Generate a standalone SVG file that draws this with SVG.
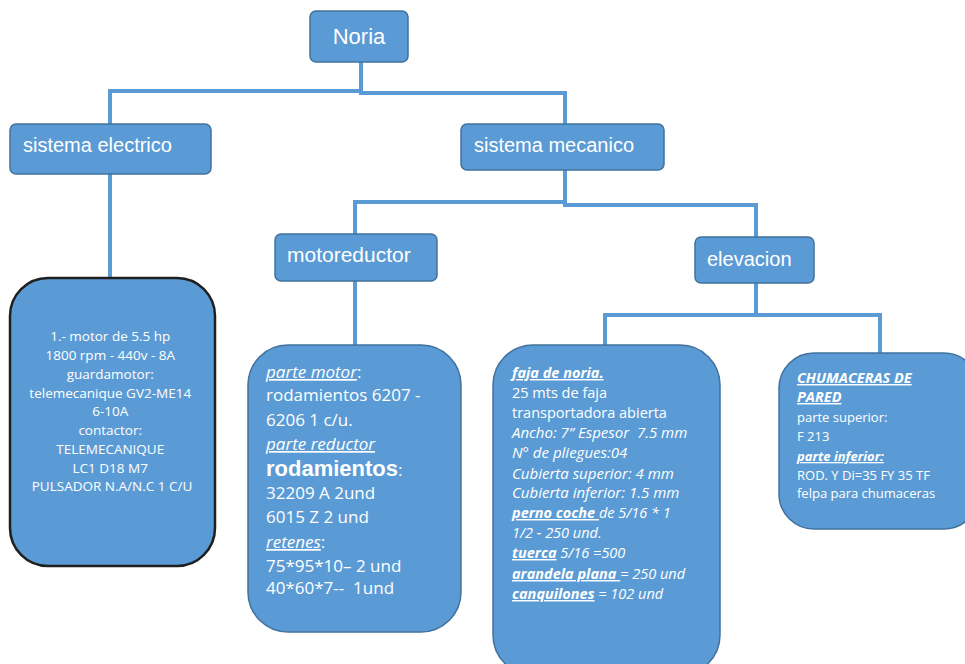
<svg xmlns="http://www.w3.org/2000/svg" width="965" height="664" viewBox="0 0 965 664">
  <style>
    .box { fill: #5B9BD5; stroke: #41719C; stroke-width: 1.5; }
    .big { fill: #5B9BD5; stroke: #41719C; stroke-width: 1.5; }
    .dark { stroke: #1f1f1f; stroke-width: 2.5; }
    .hdr { font-family: "Liberation Sans", Arial, sans-serif; font-size: 20px; fill: #ffffff; }
    .body { font-family: "Open Sans", "Liberation Sans", sans-serif; fill: #ffffff; }
    .pre { white-space: pre; }
    .link { fill: none; stroke: #5B9BD5; stroke-width: 4; }
    .u { text-decoration: underline; font-style: italic; font-weight: bold; }
    .i { font-style: italic; }
  </style>
  <rect width="965" height="664" fill="#ffffff"/>

  <g id="connectors">
    <path class="link" d="M361 62 V91 H110 V124"/>
    <path class="link" d="M361 62 V93 H565 V124"/>
    <path class="link" d="M110 174 V278"/>
    <path class="link" d="M565 170 V202 H355 V234"/>
    <path class="link" d="M565 170 V205 H756 V237"/>
    <path class="link" d="M355 281 V345"/>
    <path class="link" d="M756 283 V315 H605 V345"/>
    <path class="link" d="M756 283 V315 H880 V353"/>
  </g>

  <g id="noria">
    <rect class="box" x="310" y="11" width="98" height="51" rx="6"/>
    <text class="hdr" x="359" y="44" text-anchor="middle" style="font-size:22px">Noria</text>
  </g>

  <g id="sistema-electrico">
    <rect class="box" x="10" y="124" width="201" height="50" rx="6"/>
    <text class="hdr" x="23" y="152">sistema electrico</text>
  </g>

  <g id="sistema-mecanico">
    <rect class="box" x="461" y="124" width="203" height="46" rx="6"/>
    <text class="hdr" x="474" y="152">sistema mecanico</text>
  </g>

  <g id="motoreductor">
    <rect class="box" x="275" y="234" width="162" height="47" rx="6"/>
    <text class="hdr" x="287" y="262" style="font-size:21px">motoreductor</text>
  </g>

  <g id="elevacion">
    <rect class="box" x="695" y="237" width="119" height="46" rx="6"/>
    <text class="hdr" x="707" y="266">elevacion</text>
  </g>

  <g id="electrico-detalle">
    <rect class="big dark" x="10" y="278" width="205" height="288" rx="38"/>
    <text class="body" font-size="13.5" text-anchor="middle">
      <tspan x="112" y="341">1.- motor de 5.5 hp</tspan>
      <tspan x="112" y="360">1800 rpm - 440v - 8A</tspan>
      <tspan x="112" y="379">guardamotor:</tspan>
      <tspan x="112" y="398">telemecanique GV2-ME14</tspan>
      <tspan x="112" y="416">6-10A</tspan>
      <tspan x="112" y="435">contactor:</tspan>
      <tspan x="112" y="454">TELEMECANIQUE</tspan>
      <tspan x="112" y="473">LC1 D18 M7</tspan>
      <tspan x="112" y="491">PULSADOR N.A/N.C 1 C/U</tspan>
    </text>
  </g>

  <g id="motoreductor-detalle">
    <rect class="big" x="248" y="345" width="213" height="287" rx="40"/>
    <text class="body" font-size="17">
      <tspan x="266" y="378"><tspan class="u" style="font-weight:normal">parte motor</tspan>:</tspan>
      <tspan x="266" y="401">rodamientos 6207 -</tspan>
      <tspan x="266" y="426">6206 1 c/u.</tspan>
      <tspan x="266" y="450" class="u" style="font-weight:normal">parte reductor</tspan>
      <tspan x="266" y="476"><tspan font-family="Liberation Sans, Arial, sans-serif" font-weight="bold" font-size="22">rodamientos</tspan>:</tspan>
      <tspan x="266" y="499">32209 A 2und</tspan>
      <tspan x="266" y="523">6015 Z 2 und</tspan>
      <tspan x="266" y="548"><tspan class="u" style="font-weight:normal">retenes</tspan>:</tspan>
      <tspan x="266" y="572">75*95*10– 2 und</tspan>
      <tspan x="266" y="594" class="pre">40*60*7--  1und</tspan>
    </text>
  </g>

  <g id="faja-detalle">
    <rect class="big" x="493" y="345" width="227" height="330" rx="40"/>
    <text class="body" font-size="14.5">
      <tspan x="512" y="378" class="u">faja de noria.</tspan>
      <tspan x="512" y="398">25 mts de faja</tspan>
      <tspan x="512" y="418">transportadora abierta</tspan>
      <tspan x="512" y="438" class="i pre" font-size="15">Ancho: 7” Espesor  7.5 mm</tspan>
      <tspan x="512" y="458" class="i" font-size="15">N° de pliegues:04</tspan>
      <tspan x="512" y="479" class="i" font-size="15">Cubierta superior: 4 mm</tspan>
      <tspan x="512" y="498" class="i" font-size="15">Cubierta inferior: 1.5 mm</tspan>
      <tspan x="512" y="518"><tspan class="u pre">perno coche </tspan><tspan class="i">de 5/16 * 1</tspan></tspan>
      <tspan x="512" y="538" class="i">1/2 - 250 und.</tspan>
      <tspan x="512" y="558"><tspan class="u">tuerca</tspan><tspan class="i pre"> 5/16 =500</tspan></tspan>
      <tspan x="512" y="579"><tspan class="u pre">arandela plana </tspan><tspan class="i">= 250 und</tspan></tspan>
      <tspan x="512" y="599"><tspan class="u">canquilones</tspan><tspan class="i pre"> = 102 und</tspan></tspan>
    </text>
  </g>

  <g id="chumaceras-detalle">
    <rect class="big" x="779" y="353" width="200" height="176" rx="35"/>
    <text class="body" font-size="13">
      <tspan x="797" y="383" class="u" font-size="14.5">CHUMACERAS DE</tspan>
      <tspan x="797" y="402" class="u" font-size="14.5">PARED</tspan>
      <tspan x="797" y="422">parte superior:</tspan>
      <tspan x="797" y="441">F 213</tspan>
      <tspan x="797" y="461" class="u">parte inferior:</tspan>
      <tspan x="797" y="480">ROD. Y Di=35 FY 35 TF</tspan>
      <tspan x="797" y="498">felpa para chumaceras</tspan>
    </text>
  </g>
</svg>
